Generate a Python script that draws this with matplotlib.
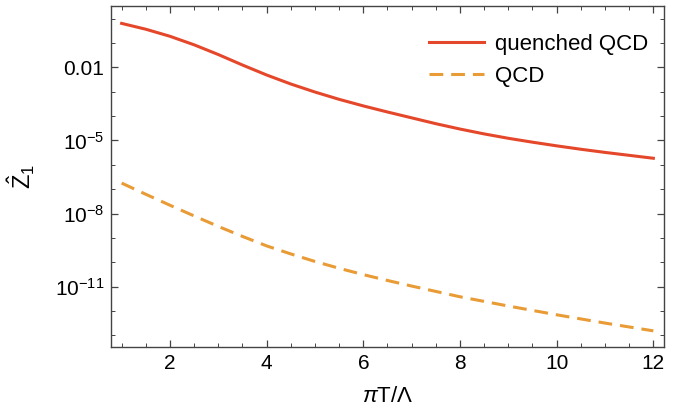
import numpy as np
import matplotlib
matplotlib.use("Agg")
import matplotlib.pyplot as plt
from matplotlib.ticker import FixedLocator, NullFormatter, MultipleLocator

# Data (log10 values)
x_vals = [1, 1.5, 2, 2.5, 3, 3.5, 4, 4.5, 5, 5.5, 6, 6.5, 7, 7.5, 8, 8.5, 9, 9.5,
          10, 10.5, 11, 11.5, 12]
log_quenched = [-0.19, -0.43, -0.72, -1.07, -1.47, -1.90, -2.31, -2.68, -3.01, -3.31,
                -3.58, -3.83, -4.07, -4.31, -4.53, -4.73, -4.91, -5.07, -5.22, -5.36,
                -5.49, -5.61, -5.73]
log_qcd = [-6.75, -7.21, -7.66, -8.10, -8.53, -8.94, -9.33, -9.66, -9.97, -10.25,
           -10.51, -10.75, -10.98, -11.20, -11.42, -11.61, -11.80, -11.98, -12.16,
           -12.33, -12.50, -12.66, -12.82]
series_labels = ["quenched QCD", "QCD"]
ytick_vals = [1e-2, 1e-5, 1e-8, 1e-11]
ytick_labels = ["0.01", r"$10^{-5}$", r"$10^{-8}$", r"$10^{-11}$"]

plt.rcParams['font.family'] = ['Liberation Sans', 'DejaVu Sans']
plt.rcParams['mathtext.fontset'] = 'custom'
plt.rcParams['mathtext.rm'] = 'Liberation Sans'
plt.rcParams['mathtext.it'] = 'Liberation Sans:italic'
plt.rcParams['mathtext.bf'] = 'Liberation Sans:bold'

fig = plt.figure(figsize=(6.81, 4.07), dpi=100)
ax = fig.add_axes([0.163, 0.147, 0.812, 0.838])

y_q = 10.0 ** np.array(log_quenched)
y_c = 10.0 ** np.array(log_qcd)
ax.plot(x_vals, y_q, color='#E5472B', lw=2.2, label=series_labels[0])
ax.plot(x_vals, y_c, color='#E99B35', lw=2.2, dashes=(4.5, 2.6), label=series_labels[1])

ax.set_yscale('log')
ax.set_xlim(0.78, 12.22)
ax.set_ylim(10 ** -13.49, 10 ** 0.52)

ax.xaxis.set_major_locator(MultipleLocator(2))
ax.xaxis.set_minor_locator(MultipleLocator(0.5))
ax.yaxis.set_major_locator(FixedLocator(ytick_vals))
ax.set_yticklabels(ytick_labels)
ax.yaxis.set_minor_locator(FixedLocator([10.0 ** k for k in range(-14, 2)]))
ax.yaxis.set_minor_formatter(NullFormatter())

ax.tick_params(which='both', direction='in', top=True, right=True, color='#444444',
               labelsize=15, labelcolor='black')
ax.tick_params(which='major', length=5, width=0.9, pad=5)
ax.tick_params(which='minor', length=3, width=0.7)
for s in ax.spines.values():
    s.set_color('#444444')
    s.set_linewidth(1.0)

ax.set_xlabel(r'$\pi$T/Λ', fontsize=16, labelpad=9)
ax.set_ylabel(r'$\hat{\mathrm{Z}}_1$', fontsize=17, labelpad=13)

leg = ax.legend(loc='upper right', frameon=False, fontsize=16, handlelength=2.5,
                handletextpad=0.5, labelspacing=0.5, borderaxespad=0.3,
                bbox_to_anchor=(1.0, 0.965))

fig.savefig('out.png', dpi=100)
